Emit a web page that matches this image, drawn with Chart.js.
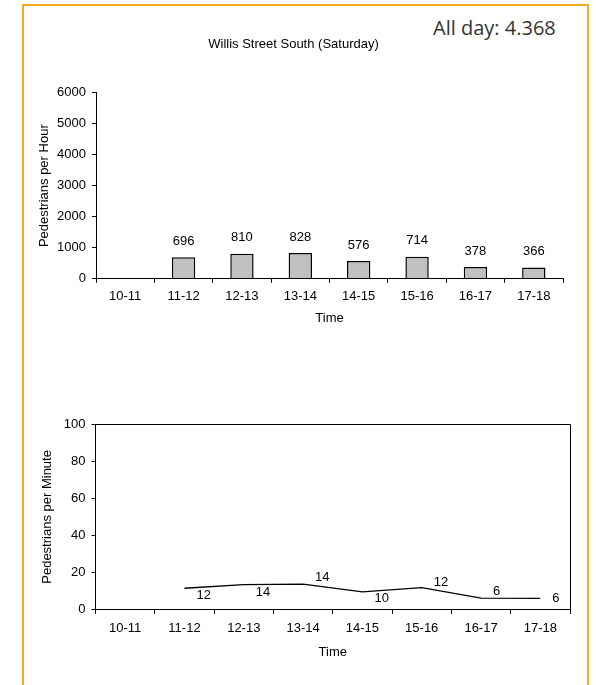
<!DOCTYPE html>
<html>
<head>
<meta charset="utf-8">
<script src="https://cdn.jsdelivr.net/npm/chart.js@4"></script>
<style>
  html, body { margin: 0; padding: 0; background: #fff; }
  #page { position: relative; width: 596px; height: 685px; overflow: hidden; }
  #frame { position: absolute; left: 22px; top: 4px; width: 563px; height: 700px;
           border: 2px solid #f7a823; border-bottom: none; }
  #allday { position: absolute; left: 433px; top: 14px; font-family: "Open Sans", sans-serif;
            font-size: 20px; color: #333; white-space: nowrap; }
  .box { position: absolute; left: 0; width: 596px; }
</style>
</head>
<body>
<div id="page">
  <div id="frame"></div>
  <div id="allday">All day: 4.368</div>
  <div class="box" style="top:0;height:326px"><canvas id="hourChart"></canvas></div>
  <div class="box" style="top:340px;height:320px"><canvas id="minuteChart"></canvas></div>
</div>
<script>
const timeSlots = ['10-11', '11-12', '12-13', '13-14', '14-15', '15-16', '16-17', '17-18'];
const perHour = [null, 696, 810, 828, 576, 714, 378, 366];
const perMinute = [null, 11.6, 13.5, 13.8, 9.6, 11.9, 6.3, 6.1];
const hourTicks = [0, 1000, 2000, 3000, 4000, 5000, 6000];
const minuteTicks = [0, 20, 40, 60, 80, 100];

Chart.defaults.font.family = '"Liberation Sans", Arial, sans-serif';
Chart.defaults.font.size = 13;
Chart.defaults.color = '#000';

// draws the value labels next to the marks
const valueLabels = {
    id: 'valueLabels',
    afterDatasetsDraw(chart, args, opts) {
        const ctx = chart.ctx;
        const meta = chart.getDatasetMeta(0);
        const data = chart.data.datasets[0].data;
        ctx.save();
        ctx.font = '13px "Liberation Sans", Arial, sans-serif';
        ctx.fillStyle = '#000';
        ctx.textBaseline = 'middle';
        meta.data.forEach(function (el, i) {
            if (data[i] == null) return;
            if (opts.mode === 'bar') {
                ctx.textAlign = 'center';
                ctx.fillText(data[i], el.x, el.y - 16);
            } else {
                ctx.textAlign = 'left';
                ctx.fillText(Math.round(data[i]), el.x + 12, el.y + opts.dy[i]);
            }
        });
        ctx.restore();
    }
};

// top and right edges of the lower chart's plot area
const plotBox = {
    id: 'plotBox',
    afterDraw(chart, args, opts) {
        if (!opts.show) return;
        const a = chart.chartArea;
        const ctx = chart.ctx;
        ctx.save();
        ctx.strokeStyle = '#000';
        ctx.lineWidth = 1;
        ctx.beginPath();
        ctx.moveTo(a.left, Math.round(a.top) + 0.5);
        ctx.lineTo(Math.round(a.right) + 0.5, Math.round(a.top) + 0.5);
        ctx.lineTo(Math.round(a.right) + 0.5, a.bottom);
        ctx.stroke();
        ctx.restore();
    }
};

function axisX(tickPad, titlePad) {
    return {
        offset: true,
        grid: { offset: true, drawOnChartArea: false, drawTicks: true, tickLength: 4, color: '#000' },
        border: { color: '#000', width: 1 },
        ticks: { padding: tickPad, maxRotation: 0 },
        title: { display: true, text: 'Time', padding: { top: titlePad, bottom: 0 } }
    };
}

function axisY(max, tickList, label, width, titlePad) {
    return {
        min: 0,
        max: max,
        afterBuildTicks: function (s) { s.ticks = tickList.map(function (v) { return { value: v }; }); },
        grid: { drawOnChartArea: false, drawTicks: true, tickLength: 4, color: '#000' },
        border: { color: '#000', width: 1 },
        ticks: { padding: 6, callback: function (v) { return String(v); } },
        title: { display: true, text: label, padding: { top: titlePad, bottom: 0 } },
        afterFit: function (s) { s.width = width; }
    };
}

new Chart(document.getElementById('hourChart'), {
    type: 'bar',
    data: {
        labels: timeSlots,
        datasets: [{
            data: perHour,
            backgroundColor: '#c0c0c0',
            borderColor: '#000',
            borderWidth: 1.5,
            barPercentage: 0.4,
            categoryPercentage: 1
        }]
    },
    options: {
        responsive: true,
        maintainAspectRatio: false,
        animation: false,
        layout: { padding: { left: 24, right: 33, top: 0, bottom: 0 } },
        plugins: {
            legend: { display: false },
            tooltip: { enabled: false },
            title: {
                display: true,
                text: 'Willis Street South (Saturday)',
                font: { size: 13, weight: 'normal' },
                color: '#000',
                padding: { top: 37, bottom: 40 }
            },
            valueLabels: { mode: 'bar' }
        },
        scales: {
            x: axisX(6, 0),
            y: axisY(6000, hourTicks, 'Pedestrians per Hour', 72, 13)
        }
    },
    plugins: [valueLabels]
});

new Chart(document.getElementById('minuteChart'), {
    type: 'line',
    data: {
        labels: timeSlots,
        datasets: [{
            data: perMinute,
            borderColor: '#000',
            borderWidth: 1.3,
            pointRadius: 0,
            tension: 0,
            fill: false
        }]
    },
    options: {
        responsive: true,
        maintainAspectRatio: false,
        animation: false,
        layout: { padding: { left: 24, right: 26, top: 84, bottom: 0 } },
        plugins: {
            legend: { display: false },
            tooltip: { enabled: false },
            valueLabels: { mode: 'line', dy: [0, 7, 8, -7, 6, -5, -7, 0] },
            plotBox: { show: true }
        },
        scales: {
            x: axisX(7, 1),
            y: axisY(100, minuteTicks, 'Pedestrians per Minute', 71.5, 16)
        }
    },
    plugins: [valueLabels, plotBox]
});
</script>
</body>
</html>
